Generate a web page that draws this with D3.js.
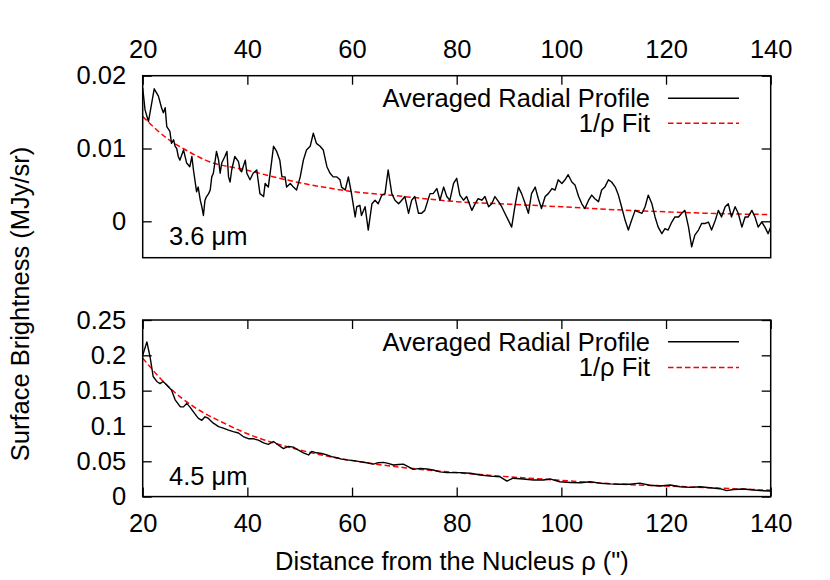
<!DOCTYPE html>
<html>
<head>
<meta charset="utf-8">
<script src="https://cdn.jsdelivr.net/npm/d3@7/dist/d3.min.js"></script>
<style>
  body { margin: 0; background: #fff; }
  text { font-family: "Liberation Sans", Arial, sans-serif; fill: #000; }
</style>
</head>
<body>
<svg id="chart" width="830" height="580"></svg>
<script>
/////////////////////////////////////
///      DATA
/////////////////////////////////////
var xTicks = [20, 40, 60, 80, 100, 120, 140];
var topYTicks = [0, 0.01, 0.02];
var botYTicks = [0, 0.05, 0.1, 0.15, 0.2, 0.25];
var legendLabels = ["Averaged Radial Profile", "1/\u03c1 Fit"];

// 3.6 um averaged radial profile, value in units of 0.001 MJy/sr
var rho36 = [20.0,20.45,21.1,22.2,23.0,23.6,23.95,24.3,24.6,25.2,25.5,25.9,26.2,26.5,26.8,27.1,27.8,28.4,29.0,29.4,
  29.7,30.3,30.6,31.0,31.3,31.6,31.9,32.2,32.6,32.9,33.2,33.5,34.1,34.5,34.8,35.1,35.7,36.1,36.4,36.7,
  37.0,37.6,38.3,38.6,38.9,39.6,39.9,40.5,41.1,41.8,42.1,42.4,43.1,43.4,44.0,44.6,45.0,45.6,46.2,46.6,
  47.2,47.5,48.2,48.8,49.4,50.1,50.7,51.3,52.0,52.6,53.2,53.9,54.5,55.2,55.8,56.4,57.1,57.7,58.0,58.7,
  59.3,59.9,60.6,60.9,61.5,61.8,62.5,63.1,63.8,64.4,65.0,65.7,66.3,66.9,67.6,68.2,68.9,69.5,70.1,70.8,
  71.4,72.0,72.7,73.3,73.9,74.9,75.5,76.2,76.8,77.5,78.1,78.7,79.4,80.0,80.6,81.3,81.9,82.9,83.5,84.1,
  84.8,85.4,86.1,86.7,87.3,88.0,88.6,89.2,89.9,90.5,91.2,91.8,92.4,93.1,93.7,94.3,95.0,95.6,96.2,96.9,
  97.5,98.2,98.8,99.4,100.1,100.7,101.3,102.0,102.6,103.3,103.9,104.5,105.2,105.8,106.4,107.1,107.7,108.3,109.0,109.6,
  110.3,110.9,111.5,112.2,112.8,113.4,114.1,114.7,115.4,116.0,116.6,117.3,117.9,118.5,119.2,119.8,120.4,121.1,121.7,122.4,
  123.0,123.6,124.3,124.9,125.5,126.2,126.8,127.5,128.1,128.7,129.4,130.0,130.6,131.3,131.9,132.5,133.2,133.8,134.5,135.1,
  135.7,136.4,137.0,137.6,138.3,138.9,139.5,140.0];
var prof36 = [18.3,15.3,13.7,18.2,17.2,15.6,14.9,15.6,13.0,12.35,10.7,11.2,10.3,10.0,8.9,8.4,9.8,8.0,7.5,8.9,
  7.05,4.05,4.7,2.9,2.0,0.8,2.9,3.4,3.8,4.3,6.1,6.6,9.6,8.4,6.6,8.0,8.9,9.6,6.1,5.4,
  7.05,8.9,8.2,7.05,6.8,8.4,6.6,5.7,6.6,7.05,5.4,3.8,3.4,5.2,4.7,8.0,10.3,9.6,8.4,6.1,
  6.1,4.7,5.2,4.7,4.3,6.1,8.4,9.8,10.3,12.1,10.7,10.3,9.8,7.5,6.6,6.1,6.1,5.7,4.7,4.3,
  6.1,3.8,0.6,2.0,2.2,0.8,2.0,-1.2,2.4,2.9,2.4,3.6,3.8,7.05,3.8,2.9,2.4,2.9,3.4,1.1,
  2.9,3.4,1.1,1.1,1.5,3.8,3.8,4.5,2.9,4.7,3.4,2.9,5.2,5.9,3.6,2.9,3.4,1.5,2.4,3.1,
  2.9,3.4,2.0,2.4,3.4,2.7,2.0,1.1,0.1,-0.8,2.4,4.7,3.8,2.4,1.1,3.8,4.7,3.1,1.75,3.4,
  3.8,4.5,4.3,5.7,5.2,5.7,6.4,5.4,5.0,3.4,2.4,1.75,2.9,3.6,3.1,2.7,4.3,4.7,5.7,5.4,
  4.7,3.6,2.0,0.1,-1.2,0.1,1.5,1.3,1.1,2.0,3.6,2.4,0.6,-0.8,-1.7,-1.0,-1.2,-0.1,0.6,0.6,
  1.1,1.5,-0.8,-3.5,-1.9,-1.2,-0.3,-0.3,-0.1,-1.2,0.1,1.5,0.6,2.0,2.4,0.6,2.0,1.1,-0.8,0.6,
  0.6,1.5,0.6,-0.8,-0.1,-0.8,-1.7,-0.8];

// 3.6 um fit curve, units of 0.001
var fitRho36 = [20, 25, 28, 32, 40, 50, 60, 70, 80, 90, 100, 110, 120, 130, 140];
var fit36 = [14.4, 11.2, 9.9, 8.4, 7.0, 5.3, 4.1, 3.4, 2.7, 2.35, 2.0, 1.6, 1.3, 1.06, 0.93];

// 4.5 um averaged radial profile, units of 0.01 MJy/sr
var rho45 = [20.0,20.8,21.4,22.0,22.7,23.3,23.9,24.6,25.5,26.2,27.2,27.8,28.4,29.0,29.7,30.6,31.3,31.9,32.5,33.5,
  34.5,35.4,36.4,37.3,38.3,39.2,40.2,41.1,42.1,43.1,44.0,45.0,45.9,46.9,47.8,48.8,49.7,50.7,51.7,52.3,
  53.2,54.2,55.2,56.1,57.1,58.0,59.0,60.3,61.5,62.8,64.1,65.0,66.0,66.9,67.9,68.9,69.8,70.8,71.7,73.0,
  74.3,75.5,76.8,78.1,79.4,80.6,82.6,84.5,86.4,88.3,89.6,90.8,92.7,94.7,96.6,97.8,99.7,101.7,103.6,105.5,
  107.4,109.3,111.2,113.1,115.0,116.9,118.9,120.8,122.7,124.6,126.5,128.4,130.3,131.6,132.9,134.8,136.7,138.0,139.9];
var prof45 = [20.0,21.9,19.8,17.0,16.3,16.0,16.3,15.8,15.1,13.7,12.7,12.7,13.2,12.7,12.0,11.1,10.8,11.3,11.1,10.4,
  9.9,9.7,9.4,9.2,9.0,8.5,8.2,8.2,8.0,7.6,7.4,7.8,7.3,6.8,7.1,7.0,6.6,6.2,5.9,6.4,
  6.2,6.1,5.9,5.65,5.5,5.3,5.2,5.1,4.95,4.8,4.6,4.8,4.85,4.7,4.47,4.55,4.6,4.2,3.85,4.0,
  3.9,3.76,3.5,3.4,3.4,3.4,3.3,3.05,2.9,2.8,2.2,2.6,2.5,2.35,2.35,2.5,2.1,2.0,1.97,2.1,
  1.9,1.8,1.75,1.75,1.9,1.6,1.5,1.65,1.4,1.3,1.4,1.25,1.12,0.84,1.0,1.07,0.93,0.84,0.8];

// 4.5 um fit curve, units of 0.01
var fitRho45 = [20, 25, 30, 35, 40, 50, 60, 70, 80, 90, 100, 110, 120, 130, 140];
var fit45 = [19.6, 15.5, 12.6, 10.6, 8.9, 6.6, 5.1, 4.1, 3.4, 2.8, 2.3, 1.8, 1.5, 1.2, 0.9];

/////////////////////////////////////
///      LAYOUT
/////////////////////////////////////
var svg = d3.select("#chart");
var left = 142.7, right = 770.7;
var fs = 25.5, tick = 9;

var x = d3.scaleLinear().domain([20, 140]).range([left, right]);

var panels = [
  { id: "p36", top: 75.7, bottom: 257.7, domain: [-0.005, 0.02], yTicks: topYTicks,
    rho: rho36, prof: prof36, unit: 0.001, fitRho: fitRho36, fit: fit36,
    label: "3.6 \u03bcm", labelY: 244.5, legendY: [98.3, 123.3],
    topLabels: true, bottomTicks: false },
  { id: "p45", top: 320, bottom: 496.6, domain: [0, 0.25], yTicks: botYTicks,
    rho: rho45, prof: prof45, unit: 0.01, fitRho: fitRho45, fit: fit45,
    label: "4.5 \u03bcm", labelY: 484.5, legendY: [341.7, 367.5],
    topLabels: false, bottomTicks: true }
];

function fmt(d){ return d3.format("~g")(d); }

function makePanel(p){
  var y = d3.scaleLinear().domain(p.domain).range([p.bottom, p.top]);
  var g = svg.append("g");

  g.append("clipPath").attr("id", "clip-" + p.id)
    .append("rect")
    .attr("x", left).attr("y", p.top)
    .attr("width", right - left).attr("height", p.bottom - p.top);

  // axes, ticks pointing inward
  var ax = g.append("g").attr("class", "axes");
  ax.append("g").attr("transform", "translate(" + left + ",0)")
    .call(d3.axisLeft(y).tickValues(p.yTicks).tickSize(-tick).tickPadding(16.5).tickFormat(fmt));
  ax.append("g").attr("transform", "translate(" + right + ",0)")
    .call(d3.axisRight(y).tickValues(p.yTicks).tickSize(-tick).tickFormat(""));
  ax.append("g").attr("transform", "translate(0," + p.top + ")")
    .call(d3.axisTop(x).tickValues(xTicks).tickSize(-tick).tickPadding(17.7)
      .tickFormat(p.topLabels ? fmt : ""));
  if (p.bottomTicks) {
    ax.append("g").attr("transform", "translate(0," + p.bottom + ")")
      .call(d3.axisBottom(x).tickValues(xTicks).tickSize(-tick).tickPadding(17.4).tickFormat(fmt));
  }
  ax.selectAll(".domain").remove();
  ax.selectAll(".tick line").attr("stroke", "#000").attr("stroke-width", 1.3);
  ax.selectAll("g").attr("font-size", null).attr("font-family", null);
  ax.selectAll("text").style("font-size", fs + "px");

  // fit (red dashed)
  var fitPts = p.fitRho.map(function(r, i){ return [r, p.fit[i] * p.unit]; });
  g.append("path")
    .datum(fitPts)
    .attr("clip-path", "url(#clip-" + p.id + ")")
    .attr("fill", "none")
    .attr("stroke", "#f00")
    .attr("stroke-width", 1.5)
    .attr("stroke-dasharray", "5.5,3")
    .attr("d", d3.line().curve(d3.curveMonotoneX)
      .x(function(d){ return x(d[0]); })
      .y(function(d){ return y(d[1]); }));

  // averaged profile (black)
  var profPts = p.rho.map(function(r, i){ return [r, p.prof[i] * p.unit]; });
  g.append("path")
    .datum(profPts)
    .attr("clip-path", "url(#clip-" + p.id + ")")
    .attr("fill", "none")
    .attr("stroke", "#000")
    .attr("stroke-width", 1.4)
    .attr("stroke-linejoin", "round")
    .attr("d", d3.line()
      .x(function(d){ return x(d[0]); })
      .y(function(d){ return y(d[1]); }));

  // frame
  g.append("rect")
    .attr("x", left).attr("y", p.top)
    .attr("width", right - left).attr("height", p.bottom - p.top)
    .attr("fill", "none").attr("stroke", "#000").attr("stroke-width", 1.5);

  // legend
  var styles = [{ c: "#000", dash: null }, { c: "#f00", dash: "5.5,3" }];
  legendLabels.forEach(function(txt, i){
    var ly = p.legendY[i];
    g.append("text")
      .attr("x", 650).attr("y", ly)
      .attr("dy", "0.35em")
      .attr("text-anchor", "end")
      .style("font-size", fs + "px")
      .text(txt);
    g.append("line")
      .attr("x1", 668).attr("x2", 739)
      .attr("y1", ly).attr("y2", ly)
      .attr("stroke", styles[i].c)
      .attr("stroke-width", 1.5)
      .attr("stroke-dasharray", styles[i].dash);
  });

  // band label
  g.append("text")
    .attr("x", 169).attr("y", p.labelY)
    .style("font-size", fs + "px")
    .text(p.label);
}

panels.forEach(makePanel);

// axis titles
svg.append("text")
  .attr("transform", "translate(29,304) rotate(-90)")
  .attr("text-anchor", "middle")
  .style("font-size", fs + "px")
  .text("Surface Brightness (MJy/sr)");

svg.append("text")
  .attr("x", 452).attr("y", 570)
  .attr("text-anchor", "middle")
  .style("font-size", fs + "px")
  .text("Distance from the Nucleus \u03c1 (\")");
</script>
</body>
</html>
